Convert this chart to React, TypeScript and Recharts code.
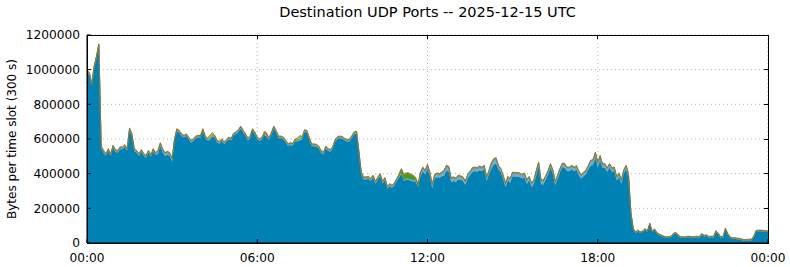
import { AreaChart, Area, XAxis, YAxis, CartesianGrid } from 'recharts';

// 289 five-minute slots, 00:00 .. 24:00, values in kB per slot (stacked bottom -> top)
const KB = 1000;

const blue = [
  981, 971, 906, 1006, 1066, 1136, 546, 521, 502, 531, 502, 550, 526, 521, 541, 541, 554, 531, 650, 617, 531, 521, 502, 526,
  502, 492, 521, 496, 531, 508, 514, 558, 524, 501, 509, 501, 469, 588, 646, 636, 617, 608, 617, 598, 579, 588, 604, 608,
  608, 646, 604, 592, 594, 613, 608, 579, 573, 588, 569, 585, 598, 591, 621, 627, 641, 661, 638, 619, 592, 606, 646, 626,
  598, 588, 598, 623, 613, 594, 626, 661, 636, 604, 604, 598, 581, 559, 566, 561, 586, 585, 592, 597, 640, 636, 596, 559,
  558, 556, 546, 521, 511, 546, 531, 526, 546, 586, 601, 604, 601, 591, 584, 586, 606, 628, 631, 515, 395, 367, 367, 370,
  358, 377, 342, 367, 386, 342, 363, 313, 328, 319, 332, 358, 379, 396, 357, 363, 363, 357, 355, 354, 325, 385, 414, 395,
  429, 385, 315, 372, 380, 376, 385, 388, 417, 411, 351, 357, 351, 367, 363, 357, 334, 372, 391, 410, 414, 410, 420, 414,
  424, 357, 395, 429, 452, 458, 424, 405, 367, 322, 360, 348, 385, 382, 383, 380, 372, 380, 341, 360, 322, 341, 391, 439,
  337, 338, 365, 395, 434, 399, 332, 367, 405, 437, 434, 414, 414, 424, 414, 422, 391, 370, 385, 395, 424, 446, 450, 493,
  436, 474, 434, 434, 410, 434, 410, 414, 360, 380, 341, 399, 424, 375, 173, 78, 58, 68, 58, 63, 77, 63, 108, 63,
  75, 55, 45, 39, 33, 29, 30, 33, 49, 55, 40, 31, 29, 29, 33, 32, 30, 31, 33, 31, 48, 38, 41, 31,
  33, 31, 65, 49, 31, 31, 79, 48, 29, 24, 24, 22, 20, 16, 13, 14, 15, 16, 33, 67, 68, 68, 66, 65,
  63,
];

const lightBlue = [
  8, 8, 8, 8, 8, 8, 8, 8, 8, 8, 8, 8, 8, 8, 8, 8, 8, 8, 8, 8, 8, 8, 8, 8,
  8, 8, 8, 8, 8, 8, 15, 15, 15, 15, 15, 15, 15, 8, 8, 8, 8, 8, 8, 8, 8, 8, 8, 8,
  8, 8, 8, 8, 8, 8, 8, 8, 8, 8, 8, 8, 8, 8, 8, 8, 8, 8, 8, 8, 8, 8, 8, 8,
  8, 8, 8, 8, 8, 8, 8, 8, 8, 8, 8, 8, 8, 8, 8, 8, 8, 8, 8, 8, 8, 8, 8, 8,
  8, 8, 8, 8, 8, 8, 8, 8, 8, 8, 8, 8, 8, 8, 8, 8, 8, 8, 8, 8, 8, 8, 8, 8,
  8, 8, 8, 8, 8, 8, 8, 8, 8, 8, 8, 8, 8, 8, 8, 8, 8, 8, 8, 8, 8, 18, 18, 18,
  18, 18, 18, 18, 18, 18, 18, 25, 25, 25, 18, 18, 18, 18, 18, 18, 18, 18, 18, 18, 18, 18, 18, 18,
  18, 18, 18, 28, 28, 28, 18, 18, 18, 18, 18, 18, 18, 18, 18, 18, 18, 18, 18, 18, 18, 18, 22, 22,
  22, 18, 18, 18, 18, 18, 18, 18, 18, 18, 18, 18, 18, 18, 18, 18, 18, 18, 18, 18, 18, 25, 25, 25,
  25, 25, 18, 18, 18, 18, 18, 18, 18, 18, 18, 18, 18, 18, 3, 3, 3, 3, 3, 3, 3, 3, 3, 3,
  3, 3, 3, 3, 3, 3, 3, 3, 3, 3, 3, 3, 3, 3, 3, 3, 3, 3, 3, 3, 3, 3, 3, 3,
  3, 3, 3, 3, 3, 3, 3, 3, 3, 3, 3, 3, 3, 3, 3, 3, 3, 3, 3, 3, 3, 3, 3, 3,
  3,
];

const green = [
  2, 2, 2, 2, 2, 2, 2, 2, 2, 2, 2, 2, 2, 2, 2, 2, 2, 2, 2, 2, 2, 2, 2, 2,
  2, 2, 2, 2, 2, 2, 2, 2, 2, 2, 2, 2, 2, 2, 2, 2, 2, 2, 2, 2, 2, 2, 2, 2,
  2, 2, 2, 2, 2, 2, 2, 2, 2, 2, 2, 2, 2, 2, 2, 2, 2, 2, 2, 2, 2, 2, 2, 2,
  2, 2, 2, 2, 2, 2, 2, 2, 2, 2, 2, 2, 2, 2, 2, 2, 2, 2, 2, 2, 2, 2, 2, 2,
  2, 2, 2, 2, 2, 2, 2, 2, 2, 2, 2, 2, 2, 2, 2, 2, 2, 2, 2, 3, 3, 3, 3, 3,
  3, 3, 3, 3, 3, 3, 3, 3, 3, 3, 3, 3, 10, 22, 28, 30, 30, 28, 25, 12, 3, 3, 3, 3,
  3, 3, 3, 3, 3, 3, 3, 3, 3, 3, 3, 3, 3, 3, 3, 3, 3, 3, 3, 3, 3, 3, 3, 3,
  3, 3, 3, 3, 3, 3, 3, 3, 3, 3, 3, 3, 3, 3, 3, 3, 3, 3, 3, 3, 3, 3, 3, 3,
  3, 3, 3, 3, 3, 3, 3, 3, 3, 3, 3, 3, 3, 3, 3, 3, 3, 3, 3, 3, 3, 3, 3, 3,
  3, 3, 3, 3, 3, 3, 3, 3, 3, 3, 3, 3, 3, 3, 1, 1, 1, 1, 1, 1, 1, 1, 1, 1,
  1, 1, 1, 1, 1, 1, 1, 1, 1, 1, 1, 1, 1, 1, 1, 1, 1, 1, 1, 1, 1, 1, 1, 1,
  1, 1, 1, 1, 1, 1, 1, 1, 1, 1, 1, 1, 1, 1, 1, 1, 1, 1, 1, 1, 1, 1, 1, 1,
  1,
];

const lime = [
  0, 0, 0, 0, 0, 0, 0, 0, 0, 0, 0, 0, 0, 0, 0, 0, 0, 0, 0, 0, 0, 0, 0, 0,
  0, 0, 0, 0, 0, 0, 0, 0, 0, 0, 0, 0, 0, 0, 0, 0, 0, 0, 0, 0, 0, 0, 0, 0,
  0, 0, 0, 0, 14, 10, 0, 0, 0, 0, 0, 0, 0, 0, 0, 0, 0, 0, 0, 0, 0, 0, 0, 0,
  0, 0, 0, 0, 0, 0, 0, 0, 0, 0, 0, 0, 0, 0, 0, 0, 0, 6, 14, 4, 0, 0, 0, 0,
  0, 0, 0, 0, 0, 0, 0, 0, 0, 0, 0, 0, 0, 0, 0, 0, 0, 0, 0, 0, 0, 0, 0, 0,
  0, 0, 0, 0, 0, 0, 0, 0, 0, 0, 0, 0, 0, 0, 0, 0, 0, 0, 0, 0, 0, 0, 0, 0,
  0, 0, 0, 0, 0, 0, 0, 0, 0, 0, 0, 0, 0, 0, 0, 0, 0, 0, 0, 0, 0, 0, 0, 0,
  0, 0, 0, 0, 0, 0, 0, 0, 0, 0, 0, 0, 0, 0, 0, 0, 0, 0, 0, 0, 0, 0, 0, 0,
  0, 0, 0, 0, 0, 0, 0, 0, 0, 0, 0, 0, 0, 0, 0, 0, 0, 0, 0, 0, 0, 0, 0, 0,
  0, 0, 0, 0, 0, 0, 0, 0, 0, 0, 0, 0, 0, 0, 0, 0, 0, 0, 0, 0, 0, 0, 0, 0,
  0, 0, 0, 0, 0, 0, 0, 0, 0, 0, 0, 0, 0, 0, 0, 0, 0, 0, 0, 0, 0, 0, 0, 0,
  0, 0, 0, 0, 0, 0, 0, 0, 0, 0, 0, 0, 0, 0, 0, 0, 0, 0, 0, 0, 0, 0, 0, 0,
  0,
];

const orange = [
  4, 4, 4, 4, 4, 4, 4, 4, 4, 4, 4, 4, 4, 4, 4, 4, 4, 4, 4, 4, 4, 4, 4, 4,
  4, 4, 4, 4, 4, 4, 4, 4, 4, 4, 4, 4, 4, 4, 4, 4, 4, 4, 4, 4, 4, 4, 4, 4,
  4, 4, 4, 4, 4, 4, 4, 4, 4, 4, 4, 4, 4, 4, 4, 4, 4, 4, 4, 4, 4, 4, 4, 4,
  4, 4, 4, 12, 12, 4, 4, 4, 4, 4, 4, 4, 4, 4, 4, 4, 4, 4, 4, 4, 4, 4, 4, 4,
  4, 4, 4, 4, 4, 4, 4, 4, 4, 4, 4, 4, 4, 4, 4, 4, 4, 4, 4, 4, 4, 4, 4, 4,
  4, 4, 4, 4, 4, 4, 4, 4, 4, 4, 4, 4, 4, 4, 4, 4, 4, 4, 4, 4, 4, 4, 4, 4,
  4, 4, 4, 4, 4, 4, 4, 4, 4, 4, 4, 4, 4, 4, 4, 4, 4, 4, 4, 4, 4, 4, 4, 4,
  4, 4, 4, 4, 4, 4, 4, 4, 4, 4, 4, 4, 4, 4, 4, 4, 4, 4, 4, 4, 4, 4, 4, 4,
  4, 4, 4, 4, 4, 4, 4, 4, 4, 4, 4, 4, 4, 4, 4, 4, 4, 4, 4, 4, 4, 4, 4, 4,
  4, 4, 4, 4, 4, 4, 4, 4, 4, 4, 4, 4, 4, 4, 3, 3, 3, 3, 3, 3, 3, 3, 3, 3,
  3, 3, 3, 3, 3, 3, 3, 3, 3, 3, 3, 3, 3, 3, 3, 3, 3, 3, 3, 3, 3, 3, 3, 3,
  3, 3, 3, 3, 3, 3, 3, 3, 3, 3, 3, 3, 3, 3, 3, 3, 3, 3, 3, 3, 3, 3, 3, 3,
  3,
];

const timeTicks = [0, 72, 144, 216, 288];
const timeLabels = ['00:00', '06:00', '12:00', '18:00', '00:00'];
const yTicks = [0, 200000, 400000, 600000, 800000, 1000000, 1200000];
const X_MAX = 288;
const Y_MAX = 1200000;

const TITLE = 'Destination UDP Ports -- 2025-12-15 UTC';
const Y_LABEL = 'Bytes per time slot (300 s)';

const chartData = blue.map((v, i) => ({
  slot: i,
  blue: v * KB,
  lightBlue: lightBlue[i] * KB,
  green: green[i] * KB,
  lime: lime[i] * KB,
  orange: orange[i] * KB,
}));

const FONT = '"DejaVu Sans", sans-serif';
const tickStyle = { fontSize: 12.2, fill: '#000', fontFamily: FONT };

const W = 790;
const H = 267;
// plot box: margins + axis sizes below put it here
const PLOT = { left: 87, top: 35, right: 768, bottom: 243 };
const TICK = 4;

// frame (top / right sides and their inward ticks) drawn over the chart
function Frame() {
  const fx = (t: number) => PLOT.left + ((PLOT.right - PLOT.left) * t) / X_MAX;
  const fy = (v: number) => PLOT.bottom - ((PLOT.bottom - PLOT.top) * v) / Y_MAX;
  return (
    <g stroke="#000" strokeWidth={1} fill="none" shapeRendering="crispEdges">
      <rect x={PLOT.left} y={PLOT.top} width={PLOT.right - PLOT.left} height={PLOT.bottom - PLOT.top} />
      {timeTicks.slice(1, -1).map((t) => (
        <line key={'t' + t} x1={fx(t)} x2={fx(t)} y1={PLOT.top} y2={PLOT.top + TICK} />
      ))}
      {yTicks.slice(1, -1).map((v) => (
        <line key={'r' + v} x1={PLOT.right - TICK} x2={PLOT.right} y1={fy(v)} y2={fy(v)} />
      ))}
    </g>
  );
}

export default function App() {
  const timeLabel = (v: number) => timeLabels[timeTicks.indexOf(v)] ?? '';
  return (
    <div style={{ position: 'relative', width: W, height: H, background: '#fff' }}>
      <style>{'body{margin:0}'}</style>
      <AreaChart
        width={W}
        height={H}
        data={chartData}
        margin={{ top: PLOT.top, right: W - PLOT.right, bottom: 0, left: 0 }}
      >
        <CartesianGrid stroke="#b4b4b4" strokeDasharray="1 3" />
        <XAxis
          dataKey="slot"
          type="number"
          domain={[0, X_MAX]}
          ticks={timeTicks}
          tickFormatter={timeLabel}
          height={H - PLOT.bottom}
          stroke="#000"
          tickSize={-TICK}
          tickMargin={14}
          tick={tickStyle}
        />
        <YAxis
          type="number"
          domain={[0, Y_MAX]}
          ticks={yTicks}
          width={PLOT.left}
          stroke="#000"
          tickSize={-TICK}
          tickMargin={11}
          tick={tickStyle}
        />
        <Area type="linear" dataKey="blue" stackId="1" fill="#0083b4" fillOpacity={1} stroke="#28708e" strokeWidth={0.8} dot={false} activeDot={false} isAnimationActive={false} />
        <Area type="linear" dataKey="lightBlue" stackId="1" fill="#6eaed2" fillOpacity={1} stroke="#5d93ad" strokeWidth={0.6} dot={false} activeDot={false} isAnimationActive={false} />
        <Area type="linear" dataKey="green" stackId="1" fill="#4d9a1f" fillOpacity={1} stroke="#4a8224" strokeWidth={0.6} dot={false} activeDot={false} isAnimationActive={false} />
        <Area type="linear" dataKey="lime" stackId="1" fill="#98d23c" fillOpacity={1} stroke="#89b443" strokeWidth={0.4} dot={false} activeDot={false} isAnimationActive={false} />
        <Area type="linear" dataKey="orange" stackId="1" fill="#d4691c" fillOpacity={1} stroke="#8c6a3c" strokeWidth={0.7} dot={false} activeDot={false} isAnimationActive={false} />
      </AreaChart>
      <svg width={W} height={H} style={{ position: 'absolute', left: 0, top: 0, pointerEvents: 'none' }}>
        <Frame />
        <text x={427.5} y={16.5} textAnchor="middle" fontSize={14.5} fontFamily={FONT} fill="#000">
          {TITLE}
        </text>
        <text
          x={11.5}
          y={139}
          transform="rotate(-90 11.5 139)"
          textAnchor="middle"
          dominantBaseline="central"
          fontSize={12}
          fontFamily={FONT}
          fill="#000"
        >
          {Y_LABEL}
        </text>
      </svg>
    </div>
  );
}
